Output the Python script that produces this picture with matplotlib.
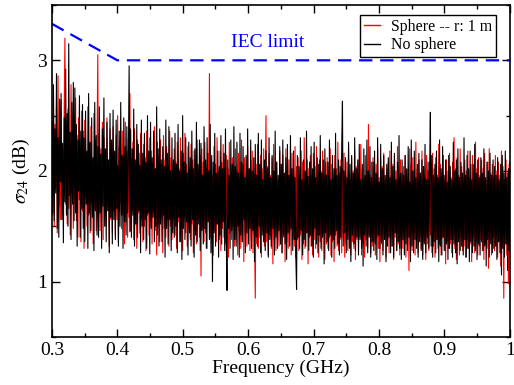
import numpy as np
import matplotlib
matplotlib.use('Agg')
import matplotlib.pyplot as plt

plt.rcParams['font.family'] = ['Liberation Serif', 'DejaVu Serif']
plt.rcParams['mathtext.fontset'] = 'stix'

# frequency span of the sweep (GHz)
f_start, f_stop = 0.3, 1.0

# sigma_24 without sphere (dB)
no_sphere = [
    2.45, 1.62, 2.78, 1.55, 2.38, 1.80, 2.88, 1.48, 2.30, 1.40, 2.65, 1.90, 2.70, 1.56, 2.25, 1.35, 2.48, 1.72, 2.92, 1.60,
    2.52, 1.50, 3.15, 1.78, 2.35, 1.38, 2.62, 1.70, 2.80, 1.55, 2.75, 1.62, 2.42, 1.32, 2.28, 1.82, 2.68, 1.40, 2.36, 1.66,
    2.60, 1.48, 2.30, 1.36, 2.54, 1.70, 2.18, 1.30, 2.70, 1.62, 2.26, 1.46, 2.48, 1.58, 2.12, 1.28, 2.62, 1.64, 2.32, 1.42,
    2.22, 1.40, 2.58, 1.62, 2.15, 1.30, 2.38, 1.68, 2.66, 1.50, 2.20, 1.36, 2.44, 1.64, 2.10, 1.26, 2.52, 1.58, 2.28, 1.34,
    2.55, 1.56, 2.18, 1.38, 2.46, 1.66, 2.05, 1.32, 2.36, 1.50, 2.62, 1.60, 2.14, 1.30, 2.48, 1.54, 2.22, 1.42, 2.40, 1.62,
    2.12, 2.95, 1.45, 2.38, 1.40, 2.20, 1.60, 2.56, 1.32, 2.10, 1.52, 2.42, 1.40, 2.24, 1.64, 2.05, 1.26, 2.46, 1.50, 2.16,
    1.38, 2.34, 1.56, 2.08, 1.30, 2.50, 1.62, 2.18, 1.25, 2.44, 1.48, 2.12, 1.58, 2.36, 1.36, 2.02, 1.50, 2.58, 1.42, 2.20,
    1.32, 2.38, 1.52, 2.10, 1.36, 2.22, 1.60, 2.04, 1.22, 2.46, 1.48, 2.16, 1.34, 2.40, 1.56, 2.00, 1.28, 2.30, 1.44, 2.10,
    1.40, 2.34, 1.50, 2.06, 1.26, 2.42, 1.58, 2.00, 1.36, 2.18, 1.20, 2.50, 1.48, 2.08, 1.38, 2.30, 1.54, 1.98, 1.24, 2.26,
    1.44, 2.12, 1.32, 2.36, 1.56, 2.02, 1.22, 2.20, 1.42, 2.44, 1.36, 2.06, 1.52, 2.28, 1.28, 2.25, 1.46, 1.96, 1.34, 2.40,
    1.48, 2.10, 1.30, 2.30, 1.54, 2.00, 1.38, 2.42, 1.26, 2.14, 1.00, 2.08, 1.44, 2.34, 1.32, 1.98, 1.52, 2.18, 1.22, 2.04,
    1.42, 2.32, 1.34, 2.02, 1.54, 2.16, 1.28, 2.38, 1.40, 0.92, 2.10, 1.48, 1.96, 1.30, 2.28, 1.46, 2.06, 1.20, 2.40, 1.38,
    2.04, 1.32, 2.26, 1.50, 1.98, 1.22, 2.34, 1.42, 2.08, 1.36, 2.22, 1.56, 1.94, 1.26, 2.14, 1.44, 2.38, 1.34, 2.02, 1.48,
    2.28, 1.30, 2.00, 1.46, 2.12, 1.18, 2.24, 1.40, 1.96, 1.32, 2.34, 1.50, 2.06, 1.26, 2.28, 1.42, 1.92, 1.36, 2.10, 1.28,
    2.18, 1.44, 2.02, 1.22, 2.30, 1.38, 1.94, 1.32, 2.14, 1.48, 2.00, 1.24, 2.36, 1.40, 2.08, 1.30, 1.96, 1.46, 2.22, 1.34,
    2.06, 1.26, 2.28, 1.42, 1.98, 1.34, 2.12, 1.20, 2.24, 1.44, 1.96, 1.32, 2.32, 1.48, 2.02, 1.28, 2.18, 1.38, 1.94, 1.22,
    0.93, 2.14, 1.40, 2.04, 1.30, 2.30, 1.46, 1.92, 1.24, 2.10, 1.38, 2.00, 1.32, 2.36, 1.44, 1.95, 1.28, 2.08, 1.42, 2.22,
    1.32, 2.02, 1.22, 2.26, 1.48, 1.94, 1.34, 2.12, 1.26, 2.06, 1.42, 2.32, 1.30, 1.98, 1.40, 2.10, 1.16, 2.20, 1.44, 1.96,
    1.36, 2.08, 1.28, 2.28, 1.42, 1.92, 1.22, 2.14, 1.38, 2.02, 1.30, 2.34, 1.46, 1.96, 1.34, 2.10, 1.24, 2.04, 1.40, 2.20,
    2.63, 1.32, 2.00, 1.44, 2.12, 1.26, 1.94, 1.38, 2.26, 1.30, 2.06, 1.18, 2.14, 1.42, 1.98, 1.34, 2.30, 1.28, 2.02, 1.40,
    2.10, 1.24, 2.24, 1.38, 1.92, 1.30, 2.06, 1.14, 2.20, 1.42, 1.96, 1.32, 2.28, 1.26, 2.00, 1.40, 2.22, 1.22, 1.94, 1.36,
    2.08, 1.28, 2.18, 1.34, 1.98, 1.20, 2.30, 1.42, 1.90, 1.30, 2.24, 1.36, 2.02, 1.24, 2.14, 1.38, 1.96, 1.18, 2.06, 1.32,
    2.12, 1.40, 1.94, 1.26, 2.26, 1.32, 2.04, 1.22, 2.16, 1.44, 1.92, 1.28, 2.08, 1.36, 2.32, 1.30, 1.98, 1.20, 2.10, 1.38,
    1.96, 1.24, 2.14, 1.34, 2.02, 1.28, 2.22, 1.40, 1.90, 1.18, 2.28, 1.32, 2.00, 1.26, 2.18, 1.38, 1.94, 1.30, 2.06, 1.22,
    2.16, 1.36, 1.98, 1.28, 2.10, 1.20, 2.04, 1.34, 2.24, 1.26, 1.92, 1.40, 2.08, 1.30, 2.00, 2.53, 1.32, 2.14, 1.22, 1.96,
    1.36, 2.06, 1.26, 2.18, 1.38, 1.94, 1.18, 2.28, 1.32, 2.02, 1.24, 2.22, 1.40, 1.96, 1.28, 2.10, 1.34, 1.90, 1.20, 2.14,
    1.30, 2.04, 1.38, 1.92, 1.22, 2.26, 1.34, 2.00, 1.26, 2.10, 1.16, 2.20, 1.36, 1.94, 1.28, 2.08, 1.32, 1.98, 1.24, 2.30,
    1.38, 1.96, 1.22, 2.14, 1.30, 2.02, 1.18, 2.18, 1.36, 1.92, 1.26, 2.06, 1.32, 2.24, 1.28, 1.98, 1.20, 2.10, 1.34, 1.94,
    1.24, 2.12, 1.36, 1.98, 1.28, 2.20, 1.32, 1.94, 1.14, 2.08, 1.38, 2.00, 1.22, 2.16, 1.34, 1.96, 1.26, 2.10, 1.30, 2.04,
    1.32, 1.96, 1.20, 2.12, 1.36, 1.92, 1.26, 2.06, 1.06, 2.14, 1.30, 1.98, 1.22, 2.18, 1.34, 1.94, 1.10, 2.02, 1.28, 2.08,
]

# sigma_24 with sphere, r = 1 m (dB)
sphere = [
    2.30, 1.60, 2.72, 1.50, 2.42, 1.84, 2.58, 1.44, 2.86, 1.68, 2.34, 1.56, 2.64, 1.76, 2.20, 1.62, 2.50, 3.20, 1.70, 2.40,
    1.52, 2.56, 1.66, 2.28, 1.42, 2.78, 1.80, 2.38, 1.48, 2.22, 1.70, 2.66, 1.55, 2.32, 1.40, 2.48, 1.74, 2.18, 1.36, 2.54,
    1.64, 2.36, 1.30, 2.46, 1.76, 2.14, 1.50, 2.58, 1.60, 2.24, 1.44, 2.40, 1.70, 2.10, 1.34, 2.52, 1.66, 2.28, 1.46, 2.20,
    3.05, 1.58, 2.34, 1.46, 2.20, 1.72, 2.44, 1.38, 2.30, 1.62, 2.12, 1.50, 2.48, 1.68, 2.06, 1.32, 2.38, 1.56, 2.24, 1.44,
    2.40, 1.64, 2.16, 1.42, 2.32, 1.56, 2.50, 1.36, 2.22, 1.70, 2.08, 1.48, 2.36, 1.60, 2.14, 1.34, 2.44, 1.54, 2.18, 1.40,
    2.30, 1.58, 2.70, 1.46, 2.10, 1.64, 2.26, 1.38, 2.38, 1.52, 2.04, 1.30, 2.28, 1.62, 2.16, 1.44, 2.34, 1.56, 2.06, 1.36,
    2.24, 1.50, 2.12, 1.28, 2.36, 1.60, 2.02, 1.42, 2.30, 1.54, 2.18, 1.34, 2.08, 1.62, 2.40, 1.46, 2.00, 1.24, 2.26, 1.52,
    2.14, 1.36, 2.28, 1.58, 2.06, 1.26, 2.32, 1.48, 2.10, 1.40, 2.22, 1.56, 1.98, 1.32, 2.36, 1.50, 2.12, 1.38, 2.04, 1.60,
    2.20, 1.42, 2.08, 1.30, 2.26, 1.54, 2.02, 1.36, 2.30, 1.48, 1.96, 1.28, 2.16, 1.58, 2.34, 1.44, 2.06, 1.32, 2.22, 1.50,
    2.00, 1.38, 2.24, 1.52, 2.10, 1.26, 2.18, 1.46, 2.04, 1.34, 2.28, 1.56, 1.98, 1.40, 2.14, 1.05, 2.20, 1.48, 2.08, 1.36,
    2.26, 1.44, 2.02, 1.30, 2.16, 1.54, 2.88, 1.40, 2.10, 1.50, 1.96, 1.24, 2.22, 1.46, 2.06, 1.36, 2.30, 1.52, 2.00, 1.38,
    2.18, 1.28, 2.08, 1.48, 2.24, 1.40, 1.98, 1.34, 2.14, 1.56, 2.02, 1.22, 2.26, 1.44, 1.94, 1.38, 2.12, 1.50, 2.04, 1.32,
    2.20, 1.38, 2.00, 1.24, 2.16, 1.46, 1.94, 1.30, 2.28, 1.36, 2.06, 1.18, 2.12, 1.42, 1.96, 1.32, 2.22, 1.48, 2.02, 1.28,
    2.10, 1.38, 2.18, 1.26, 1.98, 1.44, 0.85, 2.06, 1.34, 2.24, 1.30, 1.96, 1.40, 2.14, 1.22, 2.02, 1.46, 2.20, 1.32, 1.94,
    2.50, 1.36, 2.04, 1.24, 2.16, 1.42, 1.96, 1.30, 2.12, 1.16, 2.24, 1.38, 2.00, 1.28, 2.08, 1.44, 1.92, 1.32, 2.18, 1.34,
    2.06, 1.26, 2.14, 1.40, 1.98, 1.18, 2.20, 1.36, 2.02, 1.30, 2.10, 1.46, 1.94, 1.24, 2.16, 1.38, 2.00, 1.32, 2.22, 1.22,
    2.04, 1.38, 2.12, 1.28, 1.96, 1.42, 2.18, 1.20, 2.08, 1.34, 2.30, 1.30, 1.98, 1.44, 2.10, 1.16, 2.02, 1.40, 2.14, 1.32,
    1.96, 1.24, 2.16, 1.38, 2.04, 1.30, 2.22, 1.42, 1.92, 1.22, 2.10, 1.36, 2.00, 1.28, 2.18, 1.44, 1.94, 1.20, 2.08, 1.34,
    2.12, 1.30, 2.00, 1.40, 2.20, 1.24, 2.06, 1.36, 1.94, 1.18, 2.14, 1.42, 2.02, 1.32, 2.26, 1.28, 1.98, 1.38, 2.10, 1.26,
    2.02, 1.40, 2.16, 1.22, 1.96, 1.34, 2.08, 1.28, 2.22, 1.42, 1.92, 1.24, 2.12, 1.36, 2.00, 1.30, 2.18, 1.20, 2.04, 1.38,
    1.98, 1.28, 2.10, 1.40, 2.24, 1.24, 2.02, 1.34, 1.94, 1.22, 2.14, 1.38, 2.00, 1.30, 2.42, 1.42, 1.96, 1.26, 2.08, 1.32,
    2.12, 1.36, 1.98, 1.24, 2.06, 1.40, 2.20, 1.30, 1.94, 1.18, 2.10, 1.34, 2.04, 1.28, 2.16, 1.42, 1.92, 1.22, 2.02, 1.38,
    2.08, 1.26, 2.18, 1.38, 1.96, 1.32, 2.06, 1.20, 2.14, 1.40, 2.00, 1.28, 2.22, 1.34, 1.94, 1.24, 2.10, 1.42, 1.98, 1.30,
    2.04, 1.36, 2.14, 1.22, 2.00, 1.40, 1.92, 1.10, 2.20, 1.32, 2.06, 1.28, 2.12, 1.38, 1.96, 1.24, 2.26, 1.34, 2.02, 1.26,
    2.10, 1.40, 1.98, 1.30, 2.18, 1.24, 2.04, 1.36, 1.94, 1.20, 2.14, 1.34, 2.00, 1.28, 2.08, 1.42, 1.92, 1.26, 2.16, 1.32,
    2.02, 1.22, 2.12, 1.38, 1.96, 1.30, 2.24, 1.34, 2.06, 1.24, 1.98, 1.40, 2.14, 1.28, 1.92, 1.16, 2.10, 1.36, 2.00, 1.30,
    2.16, 1.34, 1.94, 1.26, 2.08, 1.38, 2.30, 1.30, 2.02, 1.20, 2.12, 1.36, 1.96, 1.24, 2.20, 1.40, 2.04, 1.28, 1.90, 1.32,
    2.10, 1.22, 2.00, 1.38, 2.18, 1.30, 1.94, 1.34, 2.06, 1.18, 2.14, 1.40, 1.98, 1.26, 2.26, 1.36, 2.02, 1.24, 2.12, 1.32,
    1.96, 1.38, 2.10, 1.28, 2.02, 1.20, 2.16, 1.34, 1.92, 1.30, 2.08, 1.12, 2.20, 1.36, 1.98, 1.24, 2.06, 1.40, 1.94, 1.28,
    2.14, 1.32, 2.00, 1.22, 2.08, 1.36, 1.96, 1.14, 2.18, 1.30, 2.04, 0.85, 1.92, 1.34, 2.10, 1.24, 1.98, 0.98, 2.06, 1.28,
]

# IEC limit corners
iec_f = [0.3, 0.4, 1.0]
iec_db = [3.33, 3.0, 3.0]

freq_black = np.linspace(f_start, f_stop, len(no_sphere))
freq_red = np.linspace(f_start, f_stop, len(sphere))

fig = plt.figure(figsize=(5.14, 3.85), dpi=100)
ax = fig.add_axes([0.101, 0.125, 0.891, 0.862])

ax.plot(freq_red, sphere, color='red', lw=0.8, label='Sphere -- r: 1 m')
ax.plot(freq_black, no_sphere, color='black', lw=0.8, label='No sphere')
ax.plot(iec_f, iec_db, color='blue', lw=1.6, ls=(0, (6, 3.5)))
ax.text(0.573, 3.16, 'IEC limit', color='blue', fontsize=14, va='center')

ax.set_xlim(0.3, 1.0)
ax.set_ylim(0.5, 3.5)
ax.set_xticks([0.3, 0.4, 0.5, 0.6, 0.7, 0.8, 0.9, 1.0])
ax.set_xticklabels(['0.3', '0.4', '0.5', '0.6', '0.7', '0.8', '0.9', '1'])
ax.set_xticks(np.arange(0.35, 1.0, 0.1), minor=True)
ax.set_yticks([1, 2, 3])
ax.set_yticks([0.5, 1.5, 2.5, 3.5], minor=True)
ax.tick_params(which='both', direction='in', top=True, right=True, labelsize=14)
ax.tick_params(which='major', length=6, width=1)
ax.tick_params(which='minor', length=3, width=1)
for s in ax.spines.values():
    s.set_linewidth(1.2)

ax.set_xlabel('Frequency (GHz)', fontsize=14, labelpad=1)
ax.set_ylabel(r'$\sigma_{24}$ (dB)', fontsize=14, labelpad=4)

leg = ax.legend(loc='upper right', bbox_to_anchor=(0.969, 0.970), fontsize=11.4,
                frameon=True, fancybox=False, edgecolor='black', framealpha=1,
                handlelength=1.0, borderpad=0.25, labelspacing=0.15,
                handletextpad=0.7, borderaxespad=0)
leg.get_frame().set_linewidth(1)
for h in leg.get_lines():
    h.set_linewidth(1)

fig.savefig('out.png', dpi=100)
